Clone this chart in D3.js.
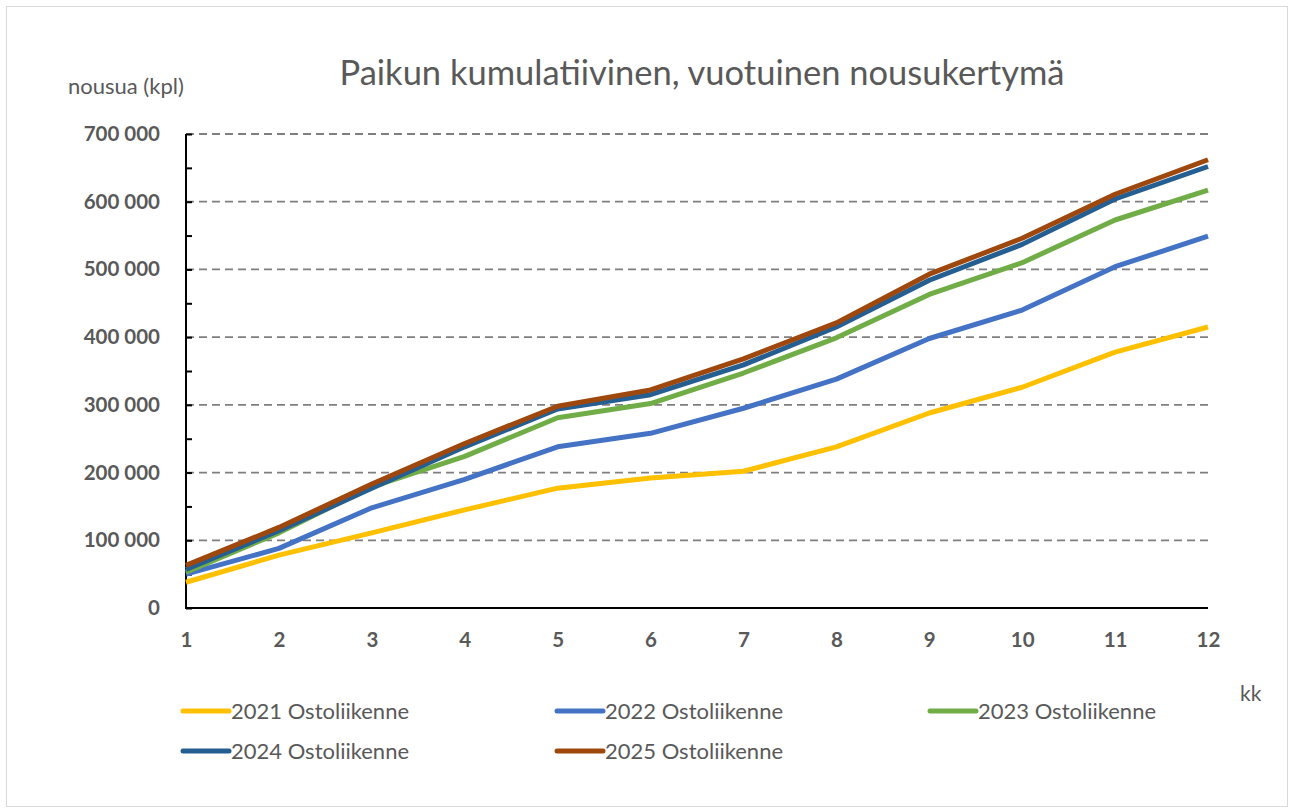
<!DOCTYPE html>
<html>
<head>
<meta charset="utf-8">
<script src="https://cdn.jsdelivr.net/npm/d3@7"></script>
<style>
  body { margin: 0; background: #fff; }
  text { font-family: Lato, "Open Sans", sans-serif; }
</style>
</head>
<body>
<div id="chart"></div>
<script>
var months = [1, 2, 3, 4, 5, 6, 7, 8, 9, 10, 11, 12];
var yTicks = [0, 100000, 200000, 300000, 400000, 500000, 600000, 700000];

var s2021 = [38000, 78000, 111000, 145000, 177000, 192000, 202000, 238000, 288000, 326000, 378000, 415000];
var s2022 = [50000, 88000, 148000, 190000, 238000, 258000, 295000, 338000, 398000, 440000, 504000, 549000];
var s2023 = [53000, 111000, 179000, 224000, 281000, 302000, 347000, 399000, 463000, 510000, 573000, 617000];
var s2024 = [57000, 114000, 177000, 238000, 294000, 315000, 359000, 415000, 484000, 537000, 604000, 652000];
var s2025 = [63000, 119000, 183000, 243000, 298000, 322000, 368000, 421000, 493000, 546000, 611000, 662000];

var seriesNames = ["2021 Ostoliikenne", "2022 Ostoliikenne", "2023 Ostoliikenne", "2024 Ostoliikenne", "2025 Ostoliikenne"];
var seriesValues = [s2021, s2022, s2023, s2024, s2025];
var colors = ["#FFC000", "#4472C4", "#70AD47", "#255E91", "#9E480E"];

var W = 1290, H = 812;
var plot = {left: 186, right: 1208, top: 134, bottom: 608};

var svg = d3.select("#chart").append("svg")
    .attr("width", W)
    .attr("height", H);

svg.append("rect")
    .attr("x", 6.5).attr("y", 6.5)
    .attr("width", 1281).attr("height", 800)
    .attr("fill", "#fff")
    .attr("stroke", "#d9d9d9");

var x = d3.scaleLinear().domain([1, 12]).range([plot.left, plot.right]);
var y = d3.scaleLinear().domain([0, 700000]).range([plot.bottom, plot.top]);

var fmt = function(d) { return d3.format(",")(d).replace(/,/g, " "); };

// gridlines
svg.append("g")
    .selectAll("line")
    .data(yTicks.slice(1))
    .enter()
    .append("line")
    .attr("x1", plot.left).attr("x2", plot.right)
    .attr("y1", function(d) { return y(d); })
    .attr("y2", function(d) { return y(d); })
    .attr("stroke", "#7f7f7f")
    .attr("stroke-width", 1.8)
    .attr("stroke-dasharray", "8,5");

// y axis, ticks inside
var yAxis = svg.append("g")
    .attr("transform", "translate(" + plot.left + ",0)")
    .call(d3.axisRight(y).tickValues(d3.range(0, 700001, 50000)).tickSize(6).tickFormat(""));
yAxis.select(".domain").attr("stroke", "#000").attr("stroke-width", 2)
    .attr("d", "M0," + plot.top + "V" + plot.bottom);
yAxis.selectAll(".tick line").attr("stroke", "#000").attr("stroke-width", 2);

svg.append("g")
    .selectAll("text")
    .data(yTicks)
    .enter()
    .append("text")
    .attr("x", 160)
    .attr("y", function(d) { return y(d) + 7; })
    .attr("text-anchor", "end")
    .attr("font-size", 20.5)
    .attr("font-weight", "bold")
    .attr("fill", "#595959")
    .text(fmt);

// x axis
svg.append("line")
    .attr("x1", plot.left - 1).attr("x2", plot.right)
    .attr("y1", plot.bottom).attr("y2", plot.bottom)
    .attr("stroke", "#000").attr("stroke-width", 2.2);

var xAxis = svg.append("g")
    .attr("transform", "translate(0," + plot.bottom + ")")
    .call(d3.axisBottom(x).tickValues(months).tickSize(0).tickPadding(24));
xAxis.select(".domain").remove();
xAxis.selectAll("text")
    .attr("font-family", "Lato, sans-serif")
    .attr("font-size", 20.5)
    .attr("font-weight", "bold")
    .attr("fill", "#595959");

// lines
var line = d3.line()
    .x(function(d, i) { return x(months[i]); })
    .y(function(d) { return y(d); });

svg.append("g")
    .selectAll("path")
    .data(seriesValues)
    .enter()
    .append("path")
    .attr("d", line)
    .attr("fill", "none")
    .attr("stroke", function(d, i) { return colors[i]; })
    .attr("stroke-width", 5)
    .attr("stroke-linejoin", "round");

// titles
svg.append("text")
    .attr("x", 702).attr("y", 85)
    .attr("text-anchor", "middle")
    .attr("font-size", 34.5)
    .attr("fill", "#595959")
    .text("Paikun kumulatiivinen, vuotuinen nousukertymä");

svg.append("text")
    .attr("x", 68).attr("y", 94)
    .attr("font-size", 22)
    .attr("fill", "#595959")
    .text("nousua (kpl)");

svg.append("text")
    .attr("x", 1240).attr("y", 701)
    .attr("font-size", 21)
    .attr("fill", "#595959")
    .text("kk");

// legend
var legendPos = [[181, 711], [555, 711], [928, 711], [181, 751], [555, 751]];
var legend = svg.append("g")
    .selectAll("g")
    .data(seriesNames)
    .enter()
    .append("g")
    .attr("transform", function(d, i) { return "translate(" + legendPos[i][0] + "," + legendPos[i][1] + ")"; });

legend.append("line")
    .attr("x1", 2).attr("x2", 48)
    .attr("y1", 0).attr("y2", 0)
    .attr("stroke", function(d, i) { return colors[i]; })
    .attr("stroke-width", 5)
    .attr("stroke-linecap", "round");

legend.append("text")
    .attr("x", 50).attr("y", 8)
    .attr("font-size", 22)
    .attr("fill", "#595959")
    .text(function(d) { return d; });
</script>
</body>
</html>
